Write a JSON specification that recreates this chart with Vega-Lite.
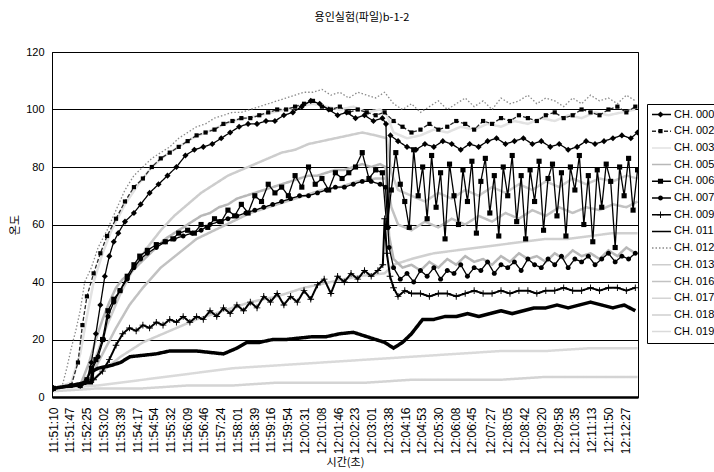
{
"$schema":"https://vega.github.io/schema/vega-lite/v6.json",
"width":586,"height":345,
"autosize":{"type":"none"},
"padding":{"left":52,"top":52,"right":76,"bottom":75},
"background":"white",
"title":{"text":"용인실험(파일)b-1-2","font":"Noto Sans CJK KR","fontSize":11,"fontWeight":"normal","color":"black","anchor":"middle","frame":"group","offset":23,"dx":17},
"config":{"view":{"stroke":"black","strokeWidth":1},"font":"Liberation Sans"},
"data":{"values":[
{"c":"CH. 003","s":0,"v":3},{"c":"CH. 003","s":40,"v":5},{"c":"CH. 003","s":60,"v":15},{"c":"CH. 003","s":75,"v":28},{"c":"CH. 003","s":90,"v":40},{"c":"CH. 003","s":110,"v":50},{"c":"CH. 003","s":130,"v":58},{"c":"CH. 003","s":160,"v":67},{"c":"CH. 003","s":190,"v":74},{"c":"CH. 003","s":220,"v":80},{"c":"CH. 003","s":250,"v":84},{"c":"CH. 003","s":280,"v":87},{"c":"CH. 003","s":310,"v":90},{"c":"CH. 003","s":340,"v":92},{"c":"CH. 003","s":370,"v":94},{"c":"CH. 003","s":400,"v":96},{"c":"CH. 003","s":430,"v":97},{"c":"CH. 003","s":460,"v":98},{"c":"CH. 003","s":490,"v":99},{"c":"CH. 003","s":520,"v":100},{"c":"CH. 003","s":550,"v":101},{"c":"CH. 003","s":580,"v":102},{"c":"CH. 003","s":610,"v":101},{"c":"CH. 003","s":640,"v":100},{"c":"CH. 003","s":670,"v":101},{"c":"CH. 003","s":700,"v":99},{"c":"CH. 003","s":730,"v":100},{"c":"CH. 003","s":745,"v":98},{"c":"CH. 003","s":760,"v":92},{"c":"CH. 003","s":790,"v":90},{"c":"CH. 003","s":820,"v":91},{"c":"CH. 003","s":850,"v":93},{"c":"CH. 003","s":880,"v":92},{"c":"CH. 003","s":910,"v":94},{"c":"CH. 003","s":940,"v":93},{"c":"CH. 003","s":970,"v":95},{"c":"CH. 003","s":1000,"v":94},{"c":"CH. 003","s":1030,"v":96},{"c":"CH. 003","s":1060,"v":95},{"c":"CH. 003","s":1090,"v":97},{"c":"CH. 003","s":1120,"v":96},{"c":"CH. 003","s":1150,"v":98},{"c":"CH. 003","s":1180,"v":97},{"c":"CH. 003","s":1210,"v":99},{"c":"CH. 003","s":1240,"v":98},{"c":"CH. 003","s":1270,"v":99},{"c":"CH. 003","s":1300,"v":100},
{"c":"CH. 013","s":0,"v":3},{"c":"CH. 013","s":60,"v":4},{"c":"CH. 013","s":80,"v":8},{"c":"CH. 013","s":100,"v":16},{"c":"CH. 013","s":120,"v":25},{"c":"CH. 013","s":150,"v":36},{"c":"CH. 013","s":180,"v":45},{"c":"CH. 013","s":210,"v":52},{"c":"CH. 013","s":240,"v":58},{"c":"CH. 013","s":270,"v":63},{"c":"CH. 013","s":300,"v":67},{"c":"CH. 013","s":330,"v":71},{"c":"CH. 013","s":360,"v":74},{"c":"CH. 013","s":390,"v":77},{"c":"CH. 013","s":420,"v":79},{"c":"CH. 013","s":450,"v":81},{"c":"CH. 013","s":480,"v":83},{"c":"CH. 013","s":510,"v":85},{"c":"CH. 013","s":540,"v":86},{"c":"CH. 013","s":570,"v":88},{"c":"CH. 013","s":600,"v":89},{"c":"CH. 013","s":630,"v":90},{"c":"CH. 013","s":660,"v":91},{"c":"CH. 013","s":690,"v":92},{"c":"CH. 013","s":720,"v":91},{"c":"CH. 013","s":745,"v":90},{"c":"CH. 013","s":755,"v":78},{"c":"CH. 013","s":770,"v":72},{"c":"CH. 013","s":800,"v":70},{"c":"CH. 013","s":830,"v":68},{"c":"CH. 013","s":860,"v":71},{"c":"CH. 013","s":890,"v":69},{"c":"CH. 013","s":920,"v":72},{"c":"CH. 013","s":950,"v":70},{"c":"CH. 013","s":980,"v":73},{"c":"CH. 013","s":1010,"v":71},{"c":"CH. 013","s":1040,"v":74},{"c":"CH. 013","s":1070,"v":72},{"c":"CH. 013","s":1100,"v":75},{"c":"CH. 013","s":1130,"v":73},{"c":"CH. 013","s":1160,"v":76},{"c":"CH. 013","s":1190,"v":74},{"c":"CH. 013","s":1220,"v":76},{"c":"CH. 013","s":1250,"v":75},{"c":"CH. 013","s":1280,"v":77},{"c":"CH. 013","s":1305,"v":76},
{"c":"CH. 016","s":0,"v":3},{"c":"CH. 016","s":70,"v":4},{"c":"CH. 016","s":90,"v":9},{"c":"CH. 016","s":110,"v":15},{"c":"CH. 016","s":140,"v":24},{"c":"CH. 016","s":170,"v":32},{"c":"CH. 016","s":200,"v":38},{"c":"CH. 016","s":240,"v":45},{"c":"CH. 016","s":280,"v":50},{"c":"CH. 016","s":320,"v":55},{"c":"CH. 016","s":360,"v":58},{"c":"CH. 016","s":400,"v":61},{"c":"CH. 016","s":440,"v":64},{"c":"CH. 016","s":480,"v":66},{"c":"CH. 016","s":520,"v":68},{"c":"CH. 016","s":560,"v":70},{"c":"CH. 016","s":600,"v":72},{"c":"CH. 016","s":640,"v":73},{"c":"CH. 016","s":680,"v":75},{"c":"CH. 016","s":720,"v":76},{"c":"CH. 016","s":745,"v":76},{"c":"CH. 016","s":755,"v":66},{"c":"CH. 016","s":770,"v":60},{"c":"CH. 016","s":800,"v":58},{"c":"CH. 016","s":830,"v":61},{"c":"CH. 016","s":860,"v":59},{"c":"CH. 016","s":890,"v":62},{"c":"CH. 016","s":920,"v":60},{"c":"CH. 016","s":950,"v":63},{"c":"CH. 016","s":980,"v":61},{"c":"CH. 016","s":1010,"v":64},{"c":"CH. 016","s":1040,"v":62},{"c":"CH. 016","s":1070,"v":65},{"c":"CH. 016","s":1100,"v":63},{"c":"CH. 016","s":1130,"v":66},{"c":"CH. 016","s":1160,"v":64},{"c":"CH. 016","s":1190,"v":66},{"c":"CH. 016","s":1220,"v":65},{"c":"CH. 016","s":1250,"v":67},{"c":"CH. 016","s":1280,"v":66},{"c":"CH. 016","s":1305,"v":68},
{"c":"CH. 017","s":0,"v":2},{"c":"CH. 017","s":100,"v":3},{"c":"CH. 017","s":200,"v":3},{"c":"CH. 017","s":300,"v":4},{"c":"CH. 017","s":400,"v":4},{"c":"CH. 017","s":500,"v":5},{"c":"CH. 017","s":600,"v":5},{"c":"CH. 017","s":700,"v":5},{"c":"CH. 017","s":800,"v":6},{"c":"CH. 017","s":900,"v":6},{"c":"CH. 017","s":1000,"v":6},{"c":"CH. 017","s":1100,"v":7},{"c":"CH. 017","s":1200,"v":7},{"c":"CH. 017","s":1305,"v":7},
{"c":"CH. 018","s":0,"v":3},{"c":"CH. 018","s":80,"v":5},{"c":"CH. 018","s":110,"v":9},{"c":"CH. 018","s":150,"v":14},{"c":"CH. 018","s":200,"v":19},{"c":"CH. 018","s":260,"v":23},{"c":"CH. 018","s":320,"v":27},{"c":"CH. 018","s":380,"v":30},{"c":"CH. 018","s":440,"v":33},{"c":"CH. 018","s":500,"v":35},{"c":"CH. 018","s":560,"v":38},{"c":"CH. 018","s":620,"v":40},{"c":"CH. 018","s":680,"v":42},{"c":"CH. 018","s":740,"v":43},{"c":"CH. 018","s":760,"v":46},{"c":"CH. 018","s":800,"v":48},{"c":"CH. 018","s":850,"v":50},{"c":"CH. 018","s":900,"v":51},{"c":"CH. 018","s":950,"v":52},{"c":"CH. 018","s":1000,"v":53},{"c":"CH. 018","s":1050,"v":54},{"c":"CH. 018","s":1100,"v":55},{"c":"CH. 018","s":1150,"v":55},{"c":"CH. 018","s":1200,"v":56},{"c":"CH. 018","s":1250,"v":57},{"c":"CH. 018","s":1305,"v":57},
{"c":"CH. 019","s":0,"v":3},{"c":"CH. 019","s":100,"v":4},{"c":"CH. 019","s":200,"v":6},{"c":"CH. 019","s":300,"v":8},{"c":"CH. 019","s":400,"v":10},{"c":"CH. 019","s":500,"v":11},{"c":"CH. 019","s":600,"v":12},{"c":"CH. 019","s":700,"v":13},{"c":"CH. 019","s":800,"v":14},{"c":"CH. 019","s":900,"v":15},{"c":"CH. 019","s":1000,"v":16},{"c":"CH. 019","s":1100,"v":16},{"c":"CH. 019","s":1200,"v":17},{"c":"CH. 019","s":1305,"v":17},
{"c":"CH. 005","s":0,"v":3},{"c":"CH. 005","s":60,"v":4},{"c":"CH. 005","s":80,"v":12},{"c":"CH. 005","s":95,"v":20},{"c":"CH. 005","s":110,"v":27},{"c":"CH. 005","s":125,"v":33},{"c":"CH. 005","s":140,"v":38},{"c":"CH. 005","s":155,"v":41},{"c":"CH. 005","s":171,"v":43},{"c":"CH. 005","s":190,"v":46},{"c":"CH. 005","s":210,"v":49},{"c":"CH. 005","s":230,"v":52},{"c":"CH. 005","s":250,"v":55},{"c":"CH. 005","s":270,"v":57},{"c":"CH. 005","s":290,"v":59},{"c":"CH. 005","s":310,"v":61},{"c":"CH. 005","s":330,"v":63},{"c":"CH. 005","s":350,"v":64},{"c":"CH. 005","s":370,"v":66},{"c":"CH. 005","s":390,"v":67},{"c":"CH. 005","s":410,"v":69},{"c":"CH. 005","s":430,"v":70},{"c":"CH. 005","s":450,"v":71},{"c":"CH. 005","s":470,"v":72},{"c":"CH. 005","s":490,"v":73},{"c":"CH. 005","s":510,"v":74},{"c":"CH. 005","s":530,"v":75},{"c":"CH. 005","s":550,"v":76},{"c":"CH. 005","s":570,"v":77},{"c":"CH. 005","s":590,"v":77},{"c":"CH. 005","s":610,"v":78},{"c":"CH. 005","s":630,"v":79},{"c":"CH. 005","s":650,"v":79},{"c":"CH. 005","s":670,"v":80},{"c":"CH. 005","s":690,"v":81},{"c":"CH. 005","s":710,"v":80},{"c":"CH. 005","s":730,"v":81},{"c":"CH. 005","s":742,"v":80},{"c":"CH. 005","s":750,"v":56},{"c":"CH. 005","s":760,"v":48},{"c":"CH. 005","s":780,"v":45},{"c":"CH. 005","s":800,"v":46},{"c":"CH. 005","s":820,"v":44},{"c":"CH. 005","s":840,"v":47},{"c":"CH. 005","s":860,"v":45},{"c":"CH. 005","s":880,"v":48},{"c":"CH. 005","s":900,"v":46},{"c":"CH. 005","s":920,"v":49},{"c":"CH. 005","s":940,"v":47},{"c":"CH. 005","s":960,"v":48},{"c":"CH. 005","s":980,"v":46},{"c":"CH. 005","s":1000,"v":49},{"c":"CH. 005","s":1020,"v":47},{"c":"CH. 005","s":1040,"v":50},{"c":"CH. 005","s":1060,"v":48},{"c":"CH. 005","s":1080,"v":49},{"c":"CH. 005","s":1100,"v":47},{"c":"CH. 005","s":1120,"v":50},{"c":"CH. 005","s":1140,"v":48},{"c":"CH. 005","s":1160,"v":51},{"c":"CH. 005","s":1180,"v":49},{"c":"CH. 005","s":1200,"v":50},{"c":"CH. 005","s":1220,"v":48},{"c":"CH. 005","s":1240,"v":51},{"c":"CH. 005","s":1260,"v":49},{"c":"CH. 005","s":1280,"v":52},{"c":"CH. 005","s":1300,"v":50},
{"c":"CH. 012","s":0,"v":3},{"c":"CH. 012","s":20,"v":4},{"c":"CH. 012","s":30,"v":10},{"c":"CH. 012","s":40,"v":17},{"c":"CH. 012","s":50,"v":23},{"c":"CH. 012","s":60,"v":30},{"c":"CH. 012","s":70,"v":40},{"c":"CH. 012","s":85,"v":45},{"c":"CH. 012","s":100,"v":52},{"c":"CH. 012","s":120,"v":58},{"c":"CH. 012","s":140,"v":65},{"c":"CH. 012","s":160,"v":72},{"c":"CH. 012","s":180,"v":77},{"c":"CH. 012","s":200,"v":80},{"c":"CH. 012","s":220,"v":83},{"c":"CH. 012","s":240,"v":85},{"c":"CH. 012","s":260,"v":87},{"c":"CH. 012","s":280,"v":90},{"c":"CH. 012","s":300,"v":92},{"c":"CH. 012","s":320,"v":94},{"c":"CH. 012","s":340,"v":95},{"c":"CH. 012","s":360,"v":97},{"c":"CH. 012","s":380,"v":98},{"c":"CH. 012","s":400,"v":99},{"c":"CH. 012","s":420,"v":99},{"c":"CH. 012","s":440,"v":100},{"c":"CH. 012","s":460,"v":101},{"c":"CH. 012","s":480,"v":102},{"c":"CH. 012","s":500,"v":103},{"c":"CH. 012","s":520,"v":104},{"c":"CH. 012","s":540,"v":105},{"c":"CH. 012","s":560,"v":106},{"c":"CH. 012","s":580,"v":106},{"c":"CH. 012","s":600,"v":107},{"c":"CH. 012","s":620,"v":105},{"c":"CH. 012","s":640,"v":106},{"c":"CH. 012","s":660,"v":104},{"c":"CH. 012","s":680,"v":106},{"c":"CH. 012","s":700,"v":105},{"c":"CH. 012","s":720,"v":104},{"c":"CH. 012","s":740,"v":106},{"c":"CH. 012","s":760,"v":102},{"c":"CH. 012","s":780,"v":100},{"c":"CH. 012","s":800,"v":102},{"c":"CH. 012","s":820,"v":99},{"c":"CH. 012","s":840,"v":101},{"c":"CH. 012","s":860,"v":103},{"c":"CH. 012","s":880,"v":100},{"c":"CH. 012","s":900,"v":102},{"c":"CH. 012","s":920,"v":104},{"c":"CH. 012","s":940,"v":101},{"c":"CH. 012","s":960,"v":103},{"c":"CH. 012","s":980,"v":100},{"c":"CH. 012","s":1000,"v":104},{"c":"CH. 012","s":1020,"v":102},{"c":"CH. 012","s":1040,"v":103},{"c":"CH. 012","s":1060,"v":105},{"c":"CH. 012","s":1080,"v":102},{"c":"CH. 012","s":1100,"v":104},{"c":"CH. 012","s":1120,"v":103},{"c":"CH. 012","s":1140,"v":101},{"c":"CH. 012","s":1160,"v":104},{"c":"CH. 012","s":1180,"v":102},{"c":"CH. 012","s":1200,"v":105},{"c":"CH. 012","s":1220,"v":103},{"c":"CH. 012","s":1240,"v":104},{"c":"CH. 012","s":1260,"v":102},{"c":"CH. 012","s":1280,"v":105},{"c":"CH. 012","s":1300,"v":103},
{"c":"CH. 007","s":0,"v":3},{"c":"CH. 007","s":40,"v":4},{"c":"CH. 007","s":70,"v":5},{"c":"CH. 007","s":85,"v":9},{"c":"CH. 007","s":100,"v":14},{"c":"CH. 007","s":112,"v":20},{"c":"CH. 007","s":122,"v":28},{"c":"CH. 007","s":135,"v":33},{"c":"CH. 007","s":149,"v":37},{"c":"CH. 007","s":165,"v":41},{"c":"CH. 007","s":180,"v":45},{"c":"CH. 007","s":195,"v":48},{"c":"CH. 007","s":210,"v":50},{"c":"CH. 007","s":230,"v":52},{"c":"CH. 007","s":250,"v":54},{"c":"CH. 007","s":270,"v":55},{"c":"CH. 007","s":290,"v":56},{"c":"CH. 007","s":310,"v":57},{"c":"CH. 007","s":330,"v":58},{"c":"CH. 007","s":350,"v":60},{"c":"CH. 007","s":370,"v":61},{"c":"CH. 007","s":390,"v":62},{"c":"CH. 007","s":410,"v":63},{"c":"CH. 007","s":430,"v":64},{"c":"CH. 007","s":450,"v":65},{"c":"CH. 007","s":470,"v":66},{"c":"CH. 007","s":490,"v":67},{"c":"CH. 007","s":510,"v":68},{"c":"CH. 007","s":530,"v":69},{"c":"CH. 007","s":550,"v":70},{"c":"CH. 007","s":570,"v":70},{"c":"CH. 007","s":590,"v":71},{"c":"CH. 007","s":610,"v":72},{"c":"CH. 007","s":630,"v":73},{"c":"CH. 007","s":650,"v":73},{"c":"CH. 007","s":670,"v":74},{"c":"CH. 007","s":690,"v":75},{"c":"CH. 007","s":710,"v":75},{"c":"CH. 007","s":730,"v":74},{"c":"CH. 007","s":742,"v":73},{"c":"CH. 007","s":750,"v":52},{"c":"CH. 007","s":760,"v":45},{"c":"CH. 007","s":775,"v":41},{"c":"CH. 007","s":790,"v":43},{"c":"CH. 007","s":805,"v":40},{"c":"CH. 007","s":820,"v":44},{"c":"CH. 007","s":835,"v":42},{"c":"CH. 007","s":850,"v":45},{"c":"CH. 007","s":865,"v":41},{"c":"CH. 007","s":880,"v":44},{"c":"CH. 007","s":895,"v":43},{"c":"CH. 007","s":910,"v":46},{"c":"CH. 007","s":925,"v":42},{"c":"CH. 007","s":940,"v":45},{"c":"CH. 007","s":955,"v":44},{"c":"CH. 007","s":970,"v":47},{"c":"CH. 007","s":985,"v":43},{"c":"CH. 007","s":1000,"v":46},{"c":"CH. 007","s":1015,"v":45},{"c":"CH. 007","s":1030,"v":47},{"c":"CH. 007","s":1045,"v":44},{"c":"CH. 007","s":1060,"v":48},{"c":"CH. 007","s":1075,"v":46},{"c":"CH. 007","s":1090,"v":45},{"c":"CH. 007","s":1105,"v":48},{"c":"CH. 007","s":1120,"v":46},{"c":"CH. 007","s":1135,"v":49},{"c":"CH. 007","s":1150,"v":45},{"c":"CH. 007","s":1165,"v":48},{"c":"CH. 007","s":1180,"v":47},{"c":"CH. 007","s":1195,"v":49},{"c":"CH. 007","s":1210,"v":46},{"c":"CH. 007","s":1225,"v":48},{"c":"CH. 007","s":1240,"v":50},{"c":"CH. 007","s":1255,"v":47},{"c":"CH. 007","s":1270,"v":49},{"c":"CH. 007","s":1285,"v":48},{"c":"CH. 007","s":1300,"v":50},
{"c":"CH. 009","s":0,"v":3},{"c":"CH. 009","s":60,"v":4},{"c":"CH. 009","s":90,"v":6},{"c":"CH. 009","s":110,"v":9},{"c":"CH. 009","s":125,"v":13},{"c":"CH. 009","s":140,"v":18},{"c":"CH. 009","s":155,"v":22},{"c":"CH. 009","s":170,"v":24},{"c":"CH. 009","s":185,"v":23},{"c":"CH. 009","s":200,"v":25},{"c":"CH. 009","s":215,"v":24},{"c":"CH. 009","s":230,"v":26},{"c":"CH. 009","s":245,"v":25},{"c":"CH. 009","s":260,"v":27},{"c":"CH. 009","s":275,"v":26},{"c":"CH. 009","s":290,"v":28},{"c":"CH. 009","s":305,"v":26},{"c":"CH. 009","s":320,"v":28},{"c":"CH. 009","s":335,"v":27},{"c":"CH. 009","s":350,"v":30},{"c":"CH. 009","s":365,"v":28},{"c":"CH. 009","s":380,"v":31},{"c":"CH. 009","s":395,"v":29},{"c":"CH. 009","s":410,"v":32},{"c":"CH. 009","s":425,"v":30},{"c":"CH. 009","s":440,"v":33},{"c":"CH. 009","s":455,"v":31},{"c":"CH. 009","s":470,"v":35},{"c":"CH. 009","s":485,"v":33},{"c":"CH. 009","s":500,"v":36},{"c":"CH. 009","s":515,"v":32},{"c":"CH. 009","s":530,"v":35},{"c":"CH. 009","s":545,"v":33},{"c":"CH. 009","s":560,"v":37},{"c":"CH. 009","s":575,"v":34},{"c":"CH. 009","s":590,"v":39},{"c":"CH. 009","s":605,"v":41},{"c":"CH. 009","s":620,"v":36},{"c":"CH. 009","s":635,"v":42},{"c":"CH. 009","s":650,"v":40},{"c":"CH. 009","s":665,"v":43},{"c":"CH. 009","s":680,"v":41},{"c":"CH. 009","s":695,"v":44},{"c":"CH. 009","s":710,"v":42},{"c":"CH. 009","s":725,"v":44},{"c":"CH. 009","s":736,"v":46},{"c":"CH. 009","s":740,"v":62},{"c":"CH. 009","s":745,"v":50},{"c":"CH. 009","s":752,"v":42},{"c":"CH. 009","s":760,"v":38},{"c":"CH. 009","s":770,"v":35},{"c":"CH. 009","s":785,"v":37},{"c":"CH. 009","s":800,"v":36},{"c":"CH. 009","s":820,"v":36},{"c":"CH. 009","s":840,"v":35},{"c":"CH. 009","s":860,"v":36},{"c":"CH. 009","s":880,"v":36},{"c":"CH. 009","s":900,"v":35},{"c":"CH. 009","s":920,"v":36},{"c":"CH. 009","s":940,"v":37},{"c":"CH. 009","s":960,"v":36},{"c":"CH. 009","s":980,"v":36},{"c":"CH. 009","s":1000,"v":37},{"c":"CH. 009","s":1020,"v":36},{"c":"CH. 009","s":1040,"v":37},{"c":"CH. 009","s":1060,"v":37},{"c":"CH. 009","s":1080,"v":36},{"c":"CH. 009","s":1100,"v":37},{"c":"CH. 009","s":1120,"v":37},{"c":"CH. 009","s":1140,"v":38},{"c":"CH. 009","s":1160,"v":37},{"c":"CH. 009","s":1180,"v":37},{"c":"CH. 009","s":1200,"v":38},{"c":"CH. 009","s":1220,"v":37},{"c":"CH. 009","s":1240,"v":38},{"c":"CH. 009","s":1260,"v":38},{"c":"CH. 009","s":1280,"v":37},{"c":"CH. 009","s":1300,"v":38},
{"c":"CH. 011","s":0,"v":3},{"c":"CH. 011","s":40,"v":4},{"c":"CH. 011","s":70,"v":5},{"c":"CH. 011","s":85,"v":5},{"c":"CH. 011","s":88,"v":9},{"c":"CH. 011","s":100,"v":10},{"c":"CH. 011","s":115,"v":10.5},{"c":"CH. 011","s":130,"v":11},{"c":"CH. 011","s":150,"v":12},{"c":"CH. 011","s":171,"v":14},{"c":"CH. 011","s":200,"v":14.5},{"c":"CH. 011","s":230,"v":15},{"c":"CH. 011","s":260,"v":16},{"c":"CH. 011","s":290,"v":16},{"c":"CH. 011","s":320,"v":16},{"c":"CH. 011","s":350,"v":15.5},{"c":"CH. 011","s":380,"v":15},{"c":"CH. 011","s":410,"v":17},{"c":"CH. 011","s":432,"v":19},{"c":"CH. 011","s":460,"v":19},{"c":"CH. 011","s":490,"v":20},{"c":"CH. 011","s":520,"v":20},{"c":"CH. 011","s":550,"v":20.5},{"c":"CH. 011","s":580,"v":21},{"c":"CH. 011","s":610,"v":21},{"c":"CH. 011","s":640,"v":22},{"c":"CH. 011","s":670,"v":22.5},{"c":"CH. 011","s":700,"v":21},{"c":"CH. 011","s":720,"v":20},{"c":"CH. 011","s":740,"v":19},{"c":"CH. 011","s":760,"v":17},{"c":"CH. 011","s":780,"v":19},{"c":"CH. 011","s":800,"v":22},{"c":"CH. 011","s":825,"v":27},{"c":"CH. 011","s":850,"v":27},{"c":"CH. 011","s":875,"v":28},{"c":"CH. 011","s":900,"v":28},{"c":"CH. 011","s":925,"v":29},{"c":"CH. 011","s":950,"v":28},{"c":"CH. 011","s":975,"v":29},{"c":"CH. 011","s":1000,"v":30},{"c":"CH. 011","s":1025,"v":29},{"c":"CH. 011","s":1050,"v":30},{"c":"CH. 011","s":1075,"v":31},{"c":"CH. 011","s":1100,"v":31},{"c":"CH. 011","s":1125,"v":32},{"c":"CH. 011","s":1150,"v":31},{"c":"CH. 011","s":1175,"v":32},{"c":"CH. 011","s":1200,"v":33},{"c":"CH. 011","s":1225,"v":32},{"c":"CH. 011","s":1250,"v":31},{"c":"CH. 011","s":1275,"v":32},{"c":"CH. 011","s":1300,"v":30},
{"c":"CH. 006","s":0,"v":3},{"c":"CH. 006","s":60,"v":4},{"c":"CH. 006","s":75,"v":6},{"c":"CH. 006","s":85,"v":10},{"c":"CH. 006","s":95,"v":13},{"c":"CH. 006","s":110,"v":20},{"c":"CH. 006","s":122,"v":30},{"c":"CH. 006","s":135,"v":34},{"c":"CH. 006","s":149,"v":37},{"c":"CH. 006","s":165,"v":42},{"c":"CH. 006","s":180,"v":46},{"c":"CH. 006","s":193,"v":49},{"c":"CH. 006","s":210,"v":51},{"c":"CH. 006","s":230,"v":53},{"c":"CH. 006","s":250,"v":54},{"c":"CH. 006","s":267,"v":55},{"c":"CH. 006","s":280,"v":57},{"c":"CH. 006","s":300,"v":58},{"c":"CH. 006","s":315,"v":57},{"c":"CH. 006","s":330,"v":60},{"c":"CH. 006","s":345,"v":59},{"c":"CH. 006","s":360,"v":62},{"c":"CH. 006","s":375,"v":61},{"c":"CH. 006","s":390,"v":65},{"c":"CH. 006","s":405,"v":63},{"c":"CH. 006","s":420,"v":67},{"c":"CH. 006","s":435,"v":64},{"c":"CH. 006","s":450,"v":70},{"c":"CH. 006","s":465,"v":68},{"c":"CH. 006","s":480,"v":74},{"c":"CH. 006","s":495,"v":71},{"c":"CH. 006","s":510,"v":73},{"c":"CH. 006","s":525,"v":70},{"c":"CH. 006","s":540,"v":77},{"c":"CH. 006","s":555,"v":73},{"c":"CH. 006","s":570,"v":80},{"c":"CH. 006","s":585,"v":74},{"c":"CH. 006","s":600,"v":76},{"c":"CH. 006","s":615,"v":72},{"c":"CH. 006","s":630,"v":78},{"c":"CH. 006","s":645,"v":76},{"c":"CH. 006","s":660,"v":78},{"c":"CH. 006","s":675,"v":80},{"c":"CH. 006","s":690,"v":85},{"c":"CH. 006","s":705,"v":76},{"c":"CH. 006","s":720,"v":79},{"c":"CH. 006","s":735,"v":78},{"c":"CH. 006","s":745,"v":59},{"c":"CH. 006","s":755,"v":72},{"c":"CH. 006","s":765,"v":85},{"c":"CH. 006","s":775,"v":74},{"c":"CH. 006","s":785,"v":68},{"c":"CH. 006","s":795,"v":59},{"c":"CH. 006","s":805,"v":86},{"c":"CH. 006","s":815,"v":70},{"c":"CH. 006","s":825,"v":80},{"c":"CH. 006","s":835,"v":62},{"c":"CH. 006","s":845,"v":84},{"c":"CH. 006","s":855,"v":66},{"c":"CH. 006","s":865,"v":78},{"c":"CH. 006","s":875,"v":55},{"c":"CH. 006","s":885,"v":81},{"c":"CH. 006","s":895,"v":70},{"c":"CH. 006","s":905,"v":60},{"c":"CH. 006","s":915,"v":79},{"c":"CH. 006","s":925,"v":68},{"c":"CH. 006","s":935,"v":82},{"c":"CH. 006","s":945,"v":57},{"c":"CH. 006","s":955,"v":75},{"c":"CH. 006","s":965,"v":83},{"c":"CH. 006","s":975,"v":64},{"c":"CH. 006","s":985,"v":77},{"c":"CH. 006","s":995,"v":56},{"c":"CH. 006","s":1005,"v":80},{"c":"CH. 006","s":1015,"v":70},{"c":"CH. 006","s":1025,"v":84},{"c":"CH. 006","s":1035,"v":61},{"c":"CH. 006","s":1045,"v":77},{"c":"CH. 006","s":1055,"v":55},{"c":"CH. 006","s":1065,"v":79},{"c":"CH. 006","s":1075,"v":68},{"c":"CH. 006","s":1085,"v":82},{"c":"CH. 006","s":1095,"v":58},{"c":"CH. 006","s":1105,"v":76},{"c":"CH. 006","s":1115,"v":81},{"c":"CH. 006","s":1125,"v":63},{"c":"CH. 006","s":1135,"v":78},{"c":"CH. 006","s":1145,"v":56},{"c":"CH. 006","s":1155,"v":80},{"c":"CH. 006","s":1165,"v":72},{"c":"CH. 006","s":1175,"v":84},{"c":"CH. 006","s":1185,"v":60},{"c":"CH. 006","s":1195,"v":77},{"c":"CH. 006","s":1205,"v":54},{"c":"CH. 006","s":1215,"v":79},{"c":"CH. 006","s":1225,"v":66},{"c":"CH. 006","s":1235,"v":81},{"c":"CH. 006","s":1245,"v":75},{"c":"CH. 006","s":1255,"v":52},{"c":"CH. 006","s":1265,"v":80},{"c":"CH. 006","s":1275,"v":70},{"c":"CH. 006","s":1285,"v":83},{"c":"CH. 006","s":1295,"v":65},{"c":"CH. 006","s":1305,"v":79},
{"c":"CH. 002","s":0,"v":3},{"c":"CH. 002","s":40,"v":4},{"c":"CH. 002","s":55,"v":12},{"c":"CH. 002","s":65,"v":25},{"c":"CH. 002","s":75,"v":35},{"c":"CH. 002","s":90,"v":43},{"c":"CH. 002","s":105,"v":50},{"c":"CH. 002","s":120,"v":56},{"c":"CH. 002","s":140,"v":62},{"c":"CH. 002","s":160,"v":68},{"c":"CH. 002","s":180,"v":73},{"c":"CH. 002","s":200,"v":76},{"c":"CH. 002","s":220,"v":80},{"c":"CH. 002","s":240,"v":83},{"c":"CH. 002","s":260,"v":85},{"c":"CH. 002","s":280,"v":87},{"c":"CH. 002","s":300,"v":89},{"c":"CH. 002","s":320,"v":91},{"c":"CH. 002","s":340,"v":92},{"c":"CH. 002","s":360,"v":93},{"c":"CH. 002","s":380,"v":95},{"c":"CH. 002","s":400,"v":96},{"c":"CH. 002","s":420,"v":97},{"c":"CH. 002","s":440,"v":97},{"c":"CH. 002","s":460,"v":98},{"c":"CH. 002","s":480,"v":99},{"c":"CH. 002","s":500,"v":100},{"c":"CH. 002","s":520,"v":100},{"c":"CH. 002","s":540,"v":101},{"c":"CH. 002","s":560,"v":102},{"c":"CH. 002","s":580,"v":103},{"c":"CH. 002","s":600,"v":101},{"c":"CH. 002","s":620,"v":100},{"c":"CH. 002","s":640,"v":101},{"c":"CH. 002","s":660,"v":99},{"c":"CH. 002","s":680,"v":100},{"c":"CH. 002","s":700,"v":99},{"c":"CH. 002","s":720,"v":98},{"c":"CH. 002","s":740,"v":99},{"c":"CH. 002","s":760,"v":96},{"c":"CH. 002","s":780,"v":94},{"c":"CH. 002","s":800,"v":92},{"c":"CH. 002","s":820,"v":93},{"c":"CH. 002","s":840,"v":95},{"c":"CH. 002","s":860,"v":93},{"c":"CH. 002","s":880,"v":94},{"c":"CH. 002","s":900,"v":96},{"c":"CH. 002","s":920,"v":95},{"c":"CH. 002","s":940,"v":93},{"c":"CH. 002","s":960,"v":96},{"c":"CH. 002","s":980,"v":95},{"c":"CH. 002","s":1000,"v":97},{"c":"CH. 002","s":1020,"v":96},{"c":"CH. 002","s":1040,"v":98},{"c":"CH. 002","s":1060,"v":97},{"c":"CH. 002","s":1080,"v":96},{"c":"CH. 002","s":1100,"v":98},{"c":"CH. 002","s":1120,"v":99},{"c":"CH. 002","s":1140,"v":97},{"c":"CH. 002","s":1160,"v":98},{"c":"CH. 002","s":1180,"v":100},{"c":"CH. 002","s":1200,"v":99},{"c":"CH. 002","s":1220,"v":98},{"c":"CH. 002","s":1240,"v":100},{"c":"CH. 002","s":1260,"v":101},{"c":"CH. 002","s":1280,"v":99},{"c":"CH. 002","s":1300,"v":101},
{"c":"CH. 000","s":0,"v":3},{"c":"CH. 000","s":60,"v":4},{"c":"CH. 000","s":75,"v":6},{"c":"CH. 000","s":85,"v":12},{"c":"CH. 000","s":95,"v":22},{"c":"CH. 000","s":105,"v":32},{"c":"CH. 000","s":115,"v":42},{"c":"CH. 000","s":125,"v":49},{"c":"CH. 000","s":135,"v":54},{"c":"CH. 000","s":145,"v":57},{"c":"CH. 000","s":160,"v":61},{"c":"CH. 000","s":180,"v":64},{"c":"CH. 000","s":195,"v":67},{"c":"CH. 000","s":215,"v":71},{"c":"CH. 000","s":235,"v":74},{"c":"CH. 000","s":255,"v":77},{"c":"CH. 000","s":275,"v":80},{"c":"CH. 000","s":295,"v":84},{"c":"CH. 000","s":315,"v":86},{"c":"CH. 000","s":335,"v":87},{"c":"CH. 000","s":355,"v":88},{"c":"CH. 000","s":375,"v":90},{"c":"CH. 000","s":395,"v":92},{"c":"CH. 000","s":415,"v":94},{"c":"CH. 000","s":435,"v":95},{"c":"CH. 000","s":455,"v":95},{"c":"CH. 000","s":475,"v":96},{"c":"CH. 000","s":495,"v":96},{"c":"CH. 000","s":515,"v":98},{"c":"CH. 000","s":535,"v":99},{"c":"CH. 000","s":555,"v":101},{"c":"CH. 000","s":575,"v":103},{"c":"CH. 000","s":595,"v":102},{"c":"CH. 000","s":615,"v":100},{"c":"CH. 000","s":635,"v":98},{"c":"CH. 000","s":655,"v":99},{"c":"CH. 000","s":675,"v":97},{"c":"CH. 000","s":695,"v":98},{"c":"CH. 000","s":715,"v":96},{"c":"CH. 000","s":735,"v":97},{"c":"CH. 000","s":743,"v":95},{"c":"CH. 000","s":748,"v":59},{"c":"CH. 000","s":753,"v":91},{"c":"CH. 000","s":770,"v":89},{"c":"CH. 000","s":790,"v":87},{"c":"CH. 000","s":810,"v":86},{"c":"CH. 000","s":830,"v":88},{"c":"CH. 000","s":850,"v":87},{"c":"CH. 000","s":870,"v":89},{"c":"CH. 000","s":890,"v":88},{"c":"CH. 000","s":910,"v":86},{"c":"CH. 000","s":930,"v":88},{"c":"CH. 000","s":950,"v":87},{"c":"CH. 000","s":970,"v":89},{"c":"CH. 000","s":990,"v":90},{"c":"CH. 000","s":1010,"v":88},{"c":"CH. 000","s":1030,"v":89},{"c":"CH. 000","s":1050,"v":90},{"c":"CH. 000","s":1070,"v":88},{"c":"CH. 000","s":1090,"v":89},{"c":"CH. 000","s":1110,"v":87},{"c":"CH. 000","s":1130,"v":88},{"c":"CH. 000","s":1150,"v":86},{"c":"CH. 000","s":1170,"v":87},{"c":"CH. 000","s":1190,"v":89},{"c":"CH. 000","s":1210,"v":88},{"c":"CH. 000","s":1230,"v":89},{"c":"CH. 000","s":1250,"v":90},{"c":"CH. 000","s":1270,"v":91},{"c":"CH. 000","s":1290,"v":90},{"c":"CH. 000","s":1305,"v":92}
]},
"encoding":{
"x":{"field":"s","type":"quantitative","scale":{"domain":[-3,1306],"nice":false,"zero":false},
 "axis":{"values":[0,37,75,112,149,187,224,262,299,336,374,411,449,486,524,561,598,636,673,711,748,786,823,860,898,935,977,1015,1052,1090,1128,1165,1203,1240,1277],
 "labelExpr":"timeFormat(datetime(2020,0,1,11,51,10+datum.value),'%H:%M:%S')",
 "labelAngle":-90,"labelFont":"Liberation Sans","labelFontSize":12,"labelColor":"black","labelPadding":10,"labelOverlap":false,"labelFlush":false,"labelBound":false,
 "ticks":false,"grid":false,"domain":true,"domainColor":"black","domainWidth":2.5,
 "title":"시간(초)","titleFont":"Noto Sans CJK KR","titleFontSize":11,"titleFontWeight":"normal","titleColor":"black","titlePadding":3}},
"y":{"field":"v","type":"quantitative","scale":{"domain":[0,120],"nice":false,"zero":true},
 "axis":{"values":[0,20,40,60,80,100,120],"grid":true,"gridColor":"black","gridWidth":1,"gridOpacity":1,"ticks":false,"domain":true,"domainColor":"black",
 "labelFont":"Liberation Sans","labelFontSize":11,"labelColor":"black","labelPadding":8,
 "title":"온도","titleFont":"Noto Sans CJK KR","titleFontSize":11,"titleFontWeight":"normal","titleColor":"black","titlePadding":5}}
},
"layer":[
{"encoding":{
 "color":{"field":"c","type":"nominal",
  "scale":{"domain":["CH. 000","CH. 002","CH. 003","CH. 005","CH. 006","CH. 007","CH. 009","CH. 011","CH. 012","CH. 013","CH. 016","CH. 017","CH. 018","CH. 019"],
   "range":["#000000","#2a2a2a","#e2e2e2","#b8b8b8","#000000","#000000","#000000","#000000","#8a8a8a","#cdcdcd","#c2c2c2","#d4d4d4","#d0d0d0","#dadada"]},
  "legend":{"orient":"none","legendX":595,"legendY":52,"title":null,"strokeColor":"black","padding":4,"symbolType":"stroke","symbolSize":361,"symbolStrokeWidth":1.5,"labelFont":"Liberation Sans","labelFontSize":11,"labelColor":"black","labelOffset":2,"clipHeight":13,"rowPadding":3.7,"zindex":1}},
 "strokeDash":{"field":"c","type":"nominal",
  "scale":{"domain":["CH. 000","CH. 002","CH. 003","CH. 005","CH. 006","CH. 007","CH. 009","CH. 011","CH. 012","CH. 013","CH. 016","CH. 017","CH. 018","CH. 019"],
   "range":[[1,0],[4,2],[1,0],[1,0],[1,0],[1,0],[1,0],[1,0],[1.5,2],[1,0],[1,0],[1,0],[1,0],[1,0]]},
  "legend":{"orient":"none","legendX":595,"legendY":52,"title":null,"strokeColor":"black","padding":4,"symbolType":"stroke","symbolSize":361,"symbolStrokeWidth":1.5,"labelFont":"Liberation Sans","labelFontSize":11,"labelColor":"black","labelOffset":2,"clipHeight":13,"rowPadding":3.7,"zindex":1}}
 },
 "layer":[
  {"transform":[{"filter":{"field":"c","oneOf":["CH. 003","CH. 013","CH. 016","CH. 017","CH. 018","CH. 019","CH. 005"]}}],
   "mark":{"type":"line","strokeWidth":2.5,"clip":true}},
  {"transform":[{"filter":{"field":"c","oneOf":["CH. 012","CH. 007","CH. 006","CH. 002","CH. 000"]}}],
   "mark":{"type":"line","strokeWidth":1.3,"clip":true}},
  {"transform":[{"filter":{"field":"c","oneOf":["CH. 009"]}}],
   "mark":{"type":"line","strokeWidth":2,"clip":true}},
  {"transform":[{"filter":{"field":"c","oneOf":["CH. 011"]}}],
   "mark":{"type":"line","strokeWidth":3.5,"clip":true}}
 ]},
{"transform":[{"filter":{"field":"c","oneOf":["CH. 000","CH. 002","CH. 006","CH. 007","CH. 009"]}}],
 "mark":{"type":"point","filled":true,"color":"black","opacity":1,"size":361,"clip":true},
 "encoding":{"shape":{"field":"c","type":"nominal",
  "scale":{"domain":["CH. 000","CH. 002","CH. 003","CH. 005","CH. 006","CH. 007","CH. 009","CH. 011","CH. 012","CH. 013","CH. 016","CH. 017","CH. 018","CH. 019","~"],
   "range":["M0,-0.32L0.32,0L0,0.32L-0.32,0Z","M-0.22,-0.22H0.22V0.22H-0.22Z","M0,0","M0,0","M-0.27,-0.27H0.27V0.27H-0.27Z","M-0.26,0A0.26,0.26,0,1,1,0.26,0A0.26,0.26,0,1,1,-0.26,0Z","M-0.35,-0.05H-0.05V-0.35H0.05V-0.05H0.35V0.05H0.05V0.35H-0.05V0.05H-0.35Z","M0,0","M0,0","M0,0","M0,0","M0,0","M0,0","M0,0","M0,0"]},
  "legend":{"orient":"none","legendX":595,"legendY":52,"title":null,"padding":4,"symbolSize":361,"symbolFillColor":"black","symbolStrokeWidth":0,"labelExpr":"''","labelFont":"Liberation Sans","labelFontSize":11,"labelOffset":2,"clipHeight":13,"rowPadding":3.7,"zindex":2}}}}
]
}
